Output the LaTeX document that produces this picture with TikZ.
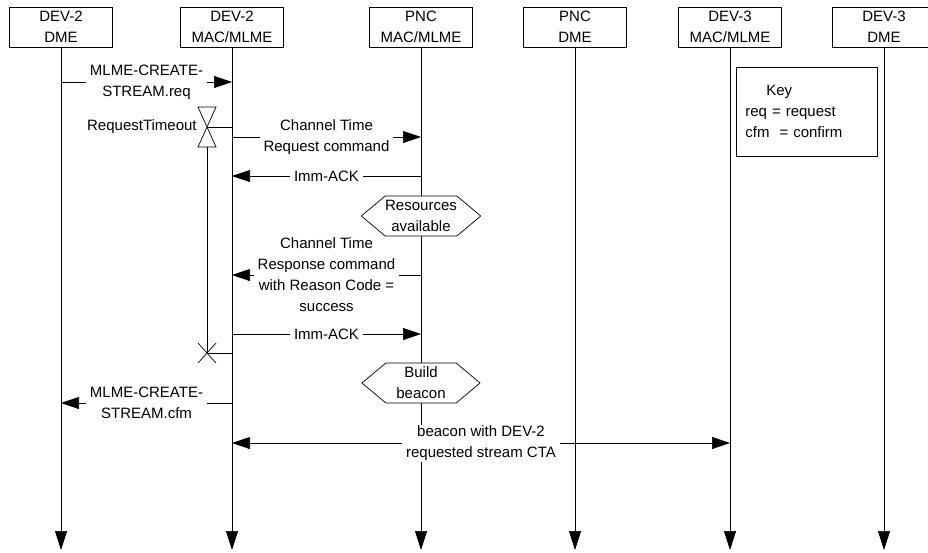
\documentclass[tikz,border=0pt]{standalone}
\usepackage{fontspec}
\setmainfont{Liberation Sans}
\usetikzlibrary{arrows.meta,shapes.symbols}

\begin{document}
\begin{tikzpicture}[x=1pt,y=-1pt,line width=0.7pt,
  font=\fontsize{15}{21}\selectfont,
  hdr/.style={draw,minimum width=103pt,minimum height=40pt,align=center,inner sep=1pt},
  life/.style={-{Triangle[length=19pt,width=12pt]}},
  msg/.style={-{Triangle[length=18pt,width=12pt]}},
  lbl/.style={midway,fill=white,align=center,inner xsep=4pt,inner ysep=1pt},
  hexa/.style={signal,signal to=east and west,signal pointer angle=80,draw,fill=white,
    minimum width=118pt,minimum height=40pt,inner sep=0pt,align=center}]
\useasboundingbox (0,0) rectangle (928,552);

% entities
\node[hdr] (dme2) at (61,27) {DEV-2\\DME};
\node[hdr] (mac2) at (232,27) {DEV-2\\MAC/MLME};
\node[hdr] (pncmac) at (421,27) {PNC\\MAC/MLME};
\node[hdr] (pncdme) at (575,27) {PNC\\DME};
\node[hdr] (mac3) at (730,27) {DEV-3\\MAC/MLME};
\node[hdr] (dme3) at (884,27) {DEV-3\\DME};

\coordinate (bot) at (0,550);
\foreach \n in {dme2,mac2,pncmac,pncdme,mac3,dme3}
  \draw[life] (\n) -- (\n |- bot);

% key
\node[draw,anchor=north west,minimum width=141pt,minimum height=89pt,text width=123pt,
  inner sep=9pt,align=left] (key) at (736,67) {\hspace*{21pt}Key\\req = request\\cfm\ \ = confirm};

% timer
\coordinate (tmo) at (207,127);
\coordinate (tmx) at (207,353);
\draw (198,107) -- (216,107) -- (198,147) -- (216,147) -- cycle;
\node[left,inner sep=1pt] (tmolbl) at (198,127) {RequestTimeout};
\draw (tmo) -- (mac2 |- tmo);
\draw (tmo) ++(0,20) -- (tmx);
\draw (198,343) -- (216,363) (198,363) -- (216,343);
\draw (tmx) -- (mac2 |- tmx);

% messages
\draw[msg] (dme2 |- 0,82) -- (mac2 |- 0,82) node[lbl] {MLME-CREATE-\\STREAM.req};
\draw[msg] (mac2 |- 0,137) -- (pncmac |- 0,137) node[lbl] {Channel Time\\Request command};
\draw[msg] (pncmac |- 0,176) -- (mac2 |- 0,176) node[lbl] {Imm-ACK};
\node[hexa] (res) at (421,216) {Resources\\available};
\draw[msg] (pncmac |- 0,275) -- (mac2 |- 0,275) node[lbl] {Channel Time\\Response command\\with Reason Code =\\success};
\draw[msg] (mac2 |- 0,334) -- (pncmac |- 0,334) node[lbl] {Imm-ACK};
\node[hexa] (build) at (421,383) {Build\\beacon};
\draw[msg] (mac2 |- 0,403) -- (dme2 |- 0,403) node[lbl] {MLME-CREATE-\\STREAM.cfm};
\draw[{Triangle[length=18pt,width=12pt]}-{Triangle[length=18pt,width=12pt]}]
  (mac2 |- 0,443) -- (mac3 |- 0,443) node[lbl] {beacon with DEV-2\\requested stream CTA};
\end{tikzpicture}
\end{document}
